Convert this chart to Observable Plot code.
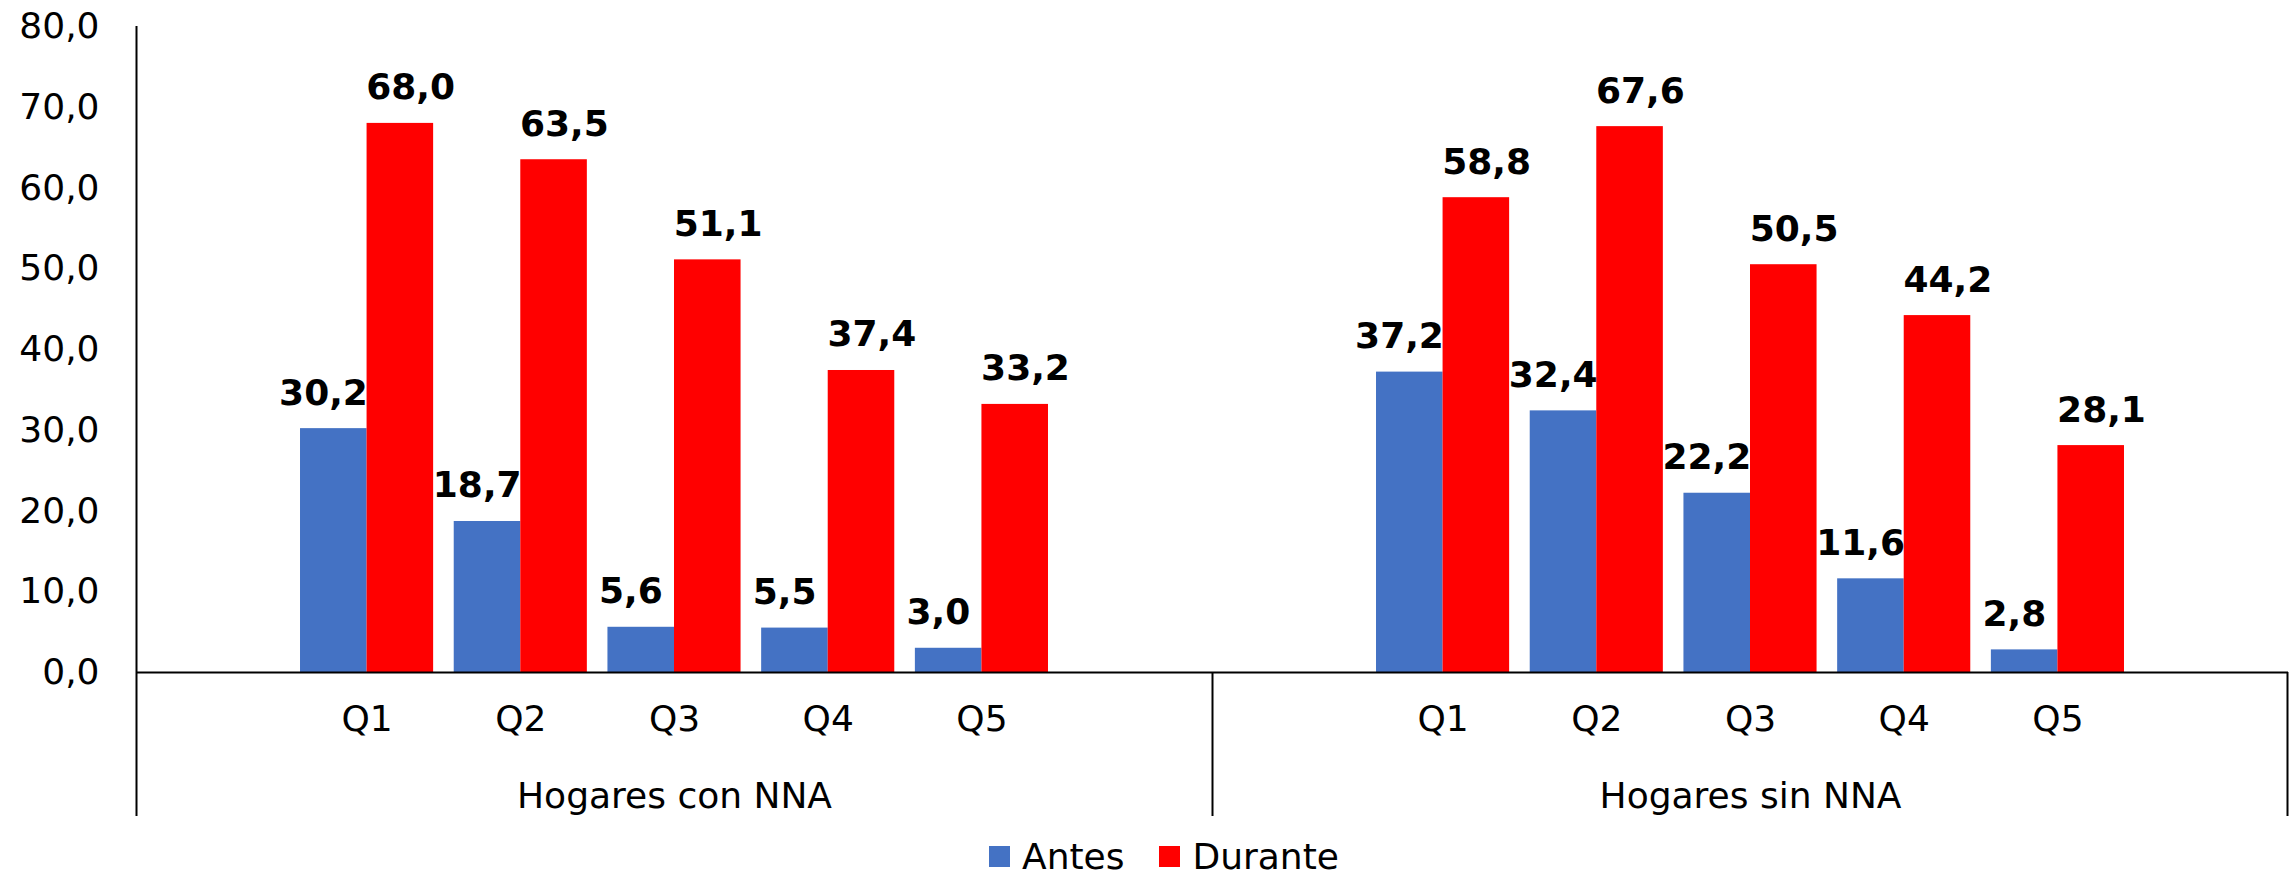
<!DOCTYPE html>
<html>
<head>
<meta charset="utf-8">
<script src="https://cdn.jsdelivr.net/npm/d3@7"></script>
<script src="https://cdn.jsdelivr.net/npm/@observablehq/plot@0.6"></script>
<style>
  html, body { margin: 0; padding: 0; background: #ffffff; }
  body { font-family: "DejaVu Sans", Verdana, sans-serif; width: 2292px; height: 876px; overflow: hidden; }
  #legend { height: 40px; display: flex; align-items: center; padding-left: 989px; font-size: 36px; color: #000; }
  #legend .item { display: flex; align-items: center; margin-right: 35px; }
  #legend .sw { width: 21px; height: 21px; display: inline-block; margin-right: 12px; }
</style>
</head>
<body>
<div id="chart"></div>
<div id="legend"></div>
<script>
// ---- data ----
const groups = ["Hogares con NNA", "Hogares sin NNA"];
const quintiles = ["Q1", "Q2", "Q3", "Q4", "Q5"];
const series = ["Antes", "Durante"];
const seriesColors = ["#4472C4", "#FF0000"];
const antesCon = [30.2, 18.7, 5.6, 5.5, 3.0];
const duranteCon = [68.0, 63.5, 51.1, 37.4, 33.2];
const antesSin = [37.2, 32.4, 22.2, 11.6, 2.8];
const duranteSin = [58.8, 67.6, 50.5, 44.2, 28.1];
const yTicks = [0, 10, 20, 30, 40, 50, 60, 70, 80];

// ---- build table ----
const valuesByGroup = [[antesCon, duranteCon], [antesSin, duranteSin]];
const slots = [];
groups.forEach((g, gi) => {
  slots.push(`${gi}|pre`);
  quintiles.forEach(q => slots.push(`${gi}|${q}`));
  slots.push(`${gi}|post`);
});
const rows = [];
groups.forEach((g, gi) => {
  series.forEach((s, si) => {
    quintiles.forEach((q, qi) => {
      rows.push({slot: `${gi}|${q}`, serie: s, value: valuesByGroup[gi][si][qi]});
    });
  });
});
const groupLabels = groups.map((g, gi) => ({slot: `${gi}|Q3`, label: g}));
const fmt = v => v.toFixed(1).replace(".", ",");

// ---- layout ----
const W = 2292, H = 836, ML = 136, MR = 4, MT = 26, MB = 164;
const FONT = "DejaVu Sans, Verdana, sans-serif";
const xs = Plot.scale({x: {type: "band", domain: slots, range: [ML, W - MR], padding: 0, round: false}});
const step = xs.bandwidth ?? (W - ML - MR) / slots.length;
const gap = step * 0.067;
const barOffset = step / 4 + gap / 2;

const antesRows = rows.filter(d => d.serie === series[0]);
const duranteRows = rows.filter(d => d.serie === series[1]);

const plot = Plot.plot({
  width: W,
  height: H,
  marginLeft: ML,
  marginRight: MR,
  marginTop: MT,
  marginBottom: MB,
  style: {fontFamily: FONT, fontSize: "36px", color: "#000", background: "#fff", overflow: "visible"},
  x: {type: "band", domain: slots, padding: 0, round: false, label: null},
  y: {domain: [0, 80], label: null},
  marks: [
    Plot.barY(antesRows, {x: "slot", y: "value", fill: seriesColors[0], insetLeft: gap, insetRight: step / 2}),
    Plot.barY(duranteRows, {x: "slot", y: "value", fill: seriesColors[1], insetLeft: step / 2, insetRight: gap}),
    Plot.text(antesRows, {x: "slot", y: "value", text: d => fmt(d.value), dx: -barOffset, dy: -24, lineAnchor: "bottom", fontSize: 36, fontWeight: "bold", fill: "#000"}),
    Plot.text(duranteRows, {x: "slot", y: "value", text: d => fmt(d.value), dx: barOffset, dy: -24, lineAnchor: "bottom", fontSize: 36, fontWeight: "bold", fill: "#000"}),
    Plot.ruleY([0], {stroke: "#000", strokeWidth: 2}),
    // y axis line (extends down through the category area)
    Plot.ruleX([slots[0]], {x: d => d, y1: 80, y2: 0, dx: -step / 2, insetBottom: -144, stroke: "#000", strokeWidth: 2}),
    // group separators
    Plot.ruleX([slots[7]], {x: d => d, y1: 0, y2: 0, dx: -step / 2, insetBottom: -144, stroke: "#000", strokeWidth: 2}),
    Plot.ruleX([slots[13]], {x: d => d, y1: 0, y2: 0, dx: step / 2 - 1, insetBottom: -144, stroke: "#000", strokeWidth: 2}),
    Plot.axisY({ticks: yTicks, tickFormat: fmt, tickSize: 0, tickPadding: 37, fontSize: 36, label: null}),
    Plot.axisX({ticks: slots, tickFormat: k => { const q = k.split("|")[1]; return quintiles.includes(q) ? q : ""; }, tickSize: 0, tickPadding: 33, fontSize: 36, label: null}),
    Plot.text(groupLabels, {x: "slot", y: 0, text: "label", lineAnchor: "top", dy: 110, fontSize: 36, fill: "#000"})
  ]
});
document.getElementById("chart").appendChild(plot);

// ---- legend ----
const legend = document.getElementById("legend");
series.forEach((s, i) => {
  const item = document.createElement("span");
  item.className = "item";
  const sw = document.createElement("span");
  sw.className = "sw";
  sw.style.background = seriesColors[i];
  item.appendChild(sw);
  item.appendChild(document.createTextNode(s));
  legend.appendChild(item);
});
</script>
</body>
</html>
